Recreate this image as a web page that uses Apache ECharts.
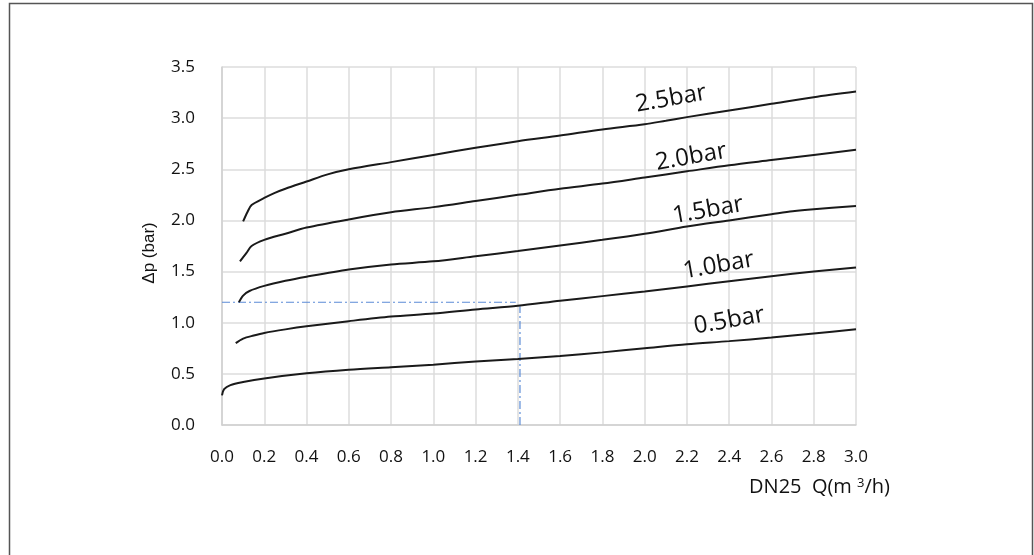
<!DOCTYPE html>
<html>
<head>
<meta charset="utf-8">
<script src="https://cdn.jsdelivr.net/npm/echarts@6/dist/echarts.min.js"></script>
<style>
  html, body { margin: 0; padding: 0; background: #fff; }
  #chart-container { width: 1034px; height: 555px; }
</style>
</head>
<body>
<div id="chart-container"></div>
<script>
var dom = document.getElementById("chart-container");
var myChart = echarts.init(dom, null, { renderer: "canvas" });

// curve data, flow Q (m3/h) -> pressure drop (bar)
var names = ["0.5bar", "1.0bar", "1.5bar", "2.0bar", "2.5bar"];

var q05 = [0, 0.01, 0.04, 0.1, 0.2, 0.4, 0.6, 0.8, 1.0, 1.2, 1.4, 1.6, 1.8, 2.0, 2.2, 2.4, 2.6, 2.8, 3.0];
var p05 = [0.29, 0.35, 0.39, 0.42, 0.455, 0.505, 0.54, 0.565, 0.59, 0.62, 0.645, 0.675, 0.71, 0.75, 0.79, 0.82, 0.855, 0.895, 0.935];

var q10 = [0.065, 0.1, 0.15, 0.2, 0.3, 0.4, 0.6, 0.8, 1.0, 1.2, 1.4, 1.6, 1.8, 2.0, 2.2, 2.4, 2.6, 2.8, 3.0];
var p10 = [0.8, 0.845, 0.875, 0.9, 0.935, 0.965, 1.015, 1.06, 1.09, 1.13, 1.165, 1.215, 1.26, 1.305, 1.355, 1.405, 1.455, 1.5, 1.54];

var q15 = [0.08, 0.1, 0.13, 0.2, 0.3, 0.4, 0.6, 0.8, 1.0, 1.2, 1.4, 1.6, 1.8, 2.0, 2.2, 2.4, 2.6, 2.7, 2.8, 3.0];
var p15 = [1.2, 1.265, 1.31, 1.36, 1.41, 1.45, 1.52, 1.57, 1.6, 1.65, 1.7, 1.755, 1.81, 1.87, 1.94, 2.0, 2.06, 2.09, 2.11, 2.14];

var q20 = [0.085, 0.115, 0.14, 0.2, 0.3, 0.4, 0.6, 0.8, 1.0, 1.2, 1.4, 1.6, 1.8, 2.0, 2.2, 2.4, 2.6, 2.8, 3.0];
var p20 = [1.6, 1.68, 1.75, 1.81, 1.87, 1.93, 2.01, 2.08, 2.13, 2.19, 2.25, 2.31, 2.36, 2.42, 2.48, 2.54, 2.59, 2.64, 2.69];

var q25 = [0.1, 0.12, 0.14, 0.2, 0.25, 0.3, 0.4, 0.5, 0.6, 0.8, 1.0, 1.2, 1.4, 1.6, 1.8, 2.0, 2.1, 2.2, 2.4, 2.6, 2.8, 3.0];
var p25 = [1.99, 2.08, 2.15, 2.22, 2.27, 2.31, 2.38, 2.45, 2.5, 2.57, 2.64, 2.71, 2.775, 2.83, 2.89, 2.94, 2.975, 3.01, 3.075, 3.14, 3.205, 3.26];

// where the curve names sit (label centres)
var labelQ = [2.40, 2.35, 2.30, 2.22, 2.125];
var labelP = [1.02, 1.56, 2.10, 2.62, 3.19];

// example reading (blue dash-dot guide)
var guideH = [[0, 1.2], [1.39, 1.2]];
var guideV = [[1.41, 0], [1.41, 1.16]];

var xs = [q05, q10, q15, q20, q25];
var ys = [p05, p10, p15, p20, p25];

function pairs(a, b) {
  return a.map(function (v, i) { return [v, b[i]]; });
}

var tickFont = "'Open Sans', sans-serif";

var series = names.map(function (n, i) {
  return {
    name: n,
    type: "line",
    data: pairs(xs[i], ys[i]),
    smooth: 0.3,
    showSymbol: false,
    lineStyle: { color: "#1a1a1a", width: 2 },
    z: 3,
    markPoint: {
      symbol: "circle",
      symbolSize: 0,
      data: [{ coord: [labelQ[i], labelP[i]] }],
      label: {
        show: true,
        position: "inside",
        formatter: n,
        rotate: 10,
        fontSize: 24,
        fontFamily: tickFont,
        color: "#111",
      },
    },
  };
});

var guideStyle = { color: "#5b8bd6", width: 1.2, type: [8, 3, 2, 3] };
series.push({ type: "line", data: guideH, showSymbol: false, lineStyle: guideStyle, z: 2 });
series.push({ type: "line", data: guideV, showSymbol: false, lineStyle: guideStyle, z: 2 });

var option = {
  animation: false,
  grid: { left: 222, right: 178, top: 67, bottom: 130 },
  xAxis: {
    type: "value",
    min: 0,
    max: 3,
    interval: 0.2,
    name: "{n|DN25  Q(m }{s|3}{n|/h)}",
    nameLocation: "end",
    nameGap: 34,
    nameTextStyle: {
      align: "right",
      verticalAlign: "top",
      padding: [52, 0, 0, 0],
      rich: {
        n: { fontSize: 20, fontFamily: tickFont, color: "#111" },
        s: { fontSize: 13, fontFamily: tickFont, color: "#111", verticalAlign: "top", padding: [0, 0, 8, 0] },
      },
    },
    axisLine: { lineStyle: { color: "#d0d0d0", width: 1.5 } },
    axisTick: { show: false },
    axisLabel: {
      margin: 24,
      fontSize: 17,
      fontFamily: tickFont,
      color: "#111",
      formatter: function (v) { return v.toFixed(1); },
    },
    splitLine: { show: true, lineStyle: { color: "#dcdcdc", width: 1.5 } },
  },
  yAxis: {
    type: "value",
    min: 0,
    max: 3.5,
    interval: 0.5,
    name: "Δp (bar)",
    nameLocation: "middle",
    nameGap: 64,
    nameTextStyle: { fontSize: 17, fontFamily: "'Liberation Sans', Arial, sans-serif", color: "#111", padding: [0, 0, 0, -14] },
    axisLine: { show: true, lineStyle: { color: "#d0d0d0", width: 1.5 } },
    axisTick: { show: false },
    axisLabel: {
      margin: 27,
      fontSize: 17,
      fontFamily: tickFont,
      color: "#111",
      formatter: function (v) { return v.toFixed(1); },
    },
    splitLine: { show: true, lineStyle: { color: "#dcdcdc", width: 1.5 } },
  },
  graphic: [
    {
      type: "rect",
      shape: { x: 9.5, y: 3.5, width: 1023, height: 600 },
      style: { fill: null, stroke: "#555", lineWidth: 1.5 },
      silent: true,
    },
  ],
  series: series,
};

myChart.setOption(option);

window.addEventListener("resize", function () {
  myChart.resize();
});
</script>
</body>
</html>
